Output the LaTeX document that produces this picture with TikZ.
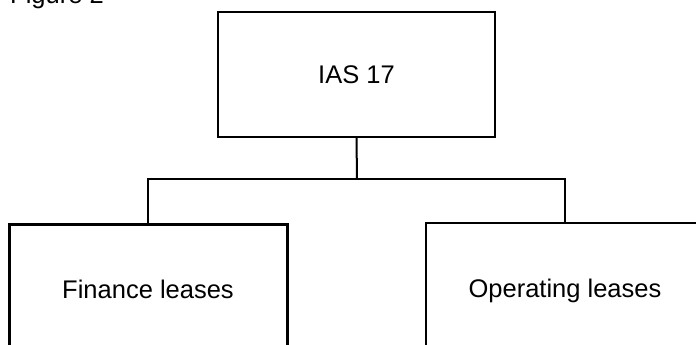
\documentclass[tikz,border=0pt]{standalone}
\usepackage{fontspec}
\setmainfont{Liberation Sans}
\begin{document}
\begin{tikzpicture}[x=1pt,y=-1pt,
  box/.style={draw=black,line width=2pt,rectangle,inner sep=0pt,
    font=\fontsize{25.5}{30}\selectfont,text=black},
  link/.style={draw=black,line width=2pt}]
  \path[use as bounding box,clip] (0,0) rectangle (696,345);
  \fill[white] (0,0) rectangle (696,345);
  % caption, mostly above the page edge
  \node[anchor=base west,inner sep=0pt,font=\fontsize{25.5}{30}\selectfont]
    (caption) at (10,4) {Figure 2};
  % the standard and its two kinds of lease
  \node[box,minimum width=277.5pt,minimum height=125pt] (ias) at (356.5,74.5) {IAS 17};
  \node[box,line width=3pt,minimum width=278pt,minimum height=130pt] (fin) at (148,289) {Finance leases};
  \node[box,minimum width=278pt,minimum height=136pt] (oper) at (565,291) {Operating leases};
  \coordinate (junc) at (357,179);
  \draw[link] (ias.south) -- (junc);
  \draw[link] (fin.north) |- (junc) -| (oper.north);
\end{tikzpicture}
\end{document}
